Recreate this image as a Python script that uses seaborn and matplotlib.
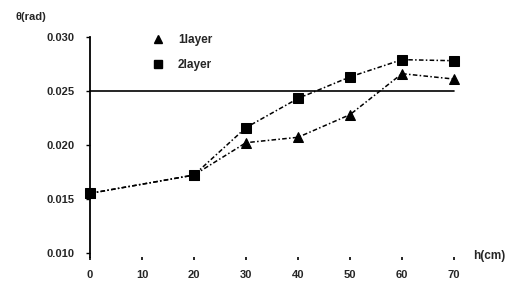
import matplotlib
matplotlib.use("Agg")
import matplotlib.pyplot as plt
import seaborn as sns
import pandas as pd
from matplotlib.lines import Line2D

# data
h = [0, 20, 30, 40, 50, 60, 70]
layer1 = [0.0155, 0.0172, 0.0202, 0.0207, 0.0228, 0.0266, 0.0261]
layer2 = [0.0155, 0.0172, 0.0216, 0.0243, 0.0263, 0.0279, 0.0278]
yticks = [0.010, 0.015, 0.020, 0.025, 0.030]
xticks = [0, 10, 20, 30, 40, 50, 60, 70]
limit = 0.025

df = pd.DataFrame({"h": h * 2,
                   "theta": layer1 + layer2,
                   "layer": ["1layer"] * len(h) + ["2layer"] * len(h)})

sns.set_style("white")
plt.rcParams["font.family"] = ["Liberation Sans", "DejaVu Sans"]
plt.rcParams["font.weight"] = "bold"

fig = plt.figure(figsize=(5.24, 2.83), dpi=100)
ax = fig.add_axes([90 / 524, 1 - 257 / 283, 364 / 524, 220 / 283])

ls = (0, (3, 1.5, 1, 1.5))
sns.lineplot(data=df[df.layer == "1layer"], x="h", y="theta", ax=ax, color="black",
             marker="^", markersize=7, linewidth=1.1, linestyle=ls, legend=False,
             markeredgecolor="black", clip_on=False)
sns.lineplot(data=df[df.layer == "2layer"], x="h", y="theta", ax=ax, color="black",
             marker="s", markersize=6.5, linewidth=1.1, linestyle=ls, legend=False,
             markeredgecolor="black", clip_on=False)

ax.plot([0, 70], [limit, limit], color="black", linewidth=1.2, clip_on=False)

ax.set_xlim(0, 70)
ax.set_ylim(0.0096, 0.030)
ax.set_xticks(xticks)
ax.set_yticks(yticks)
ax.set_yticklabels([f"{v:.3f}" for v in yticks], fontsize=8)
ax.set_xticklabels([str(v) for v in xticks], fontsize=8)
ax.set_xlabel("")
ax.set_ylabel("")

for s in ["top", "right", "bottom"]:
    ax.spines[s].set_visible(False)
ax.spines["left"].set_linewidth(1.3)
ax.spines["left"].set_color("black")
ax.tick_params(axis="y", left=True, length=3, width=1, color="black", pad=8)
ax.tick_params(axis="x", bottom=True, length=2, width=1.2, color="black", pad=7)

handles = [Line2D([], [], color="black", marker="^", linestyle="none", markersize=5.5),
           Line2D([], [], color="black", marker="s", linestyle="none", markersize=5.5)]
ax.legend(handles, ["1layer", "2layer"], loc="upper left", bbox_to_anchor=(0.125, 1.06),
          frameon=False, fontsize=8.5, handletextpad=0.7, labelspacing=1.05)

fig.text(15 / 524, 1 - 17 / 283, "θ(rad)", fontsize=8, va="center", ha="left")
fig.text(473 / 524, 1 - 256 / 283, "h(cm)", fontsize=8.5, va="center", ha="left")

fig.savefig("out.png", dpi=100)
